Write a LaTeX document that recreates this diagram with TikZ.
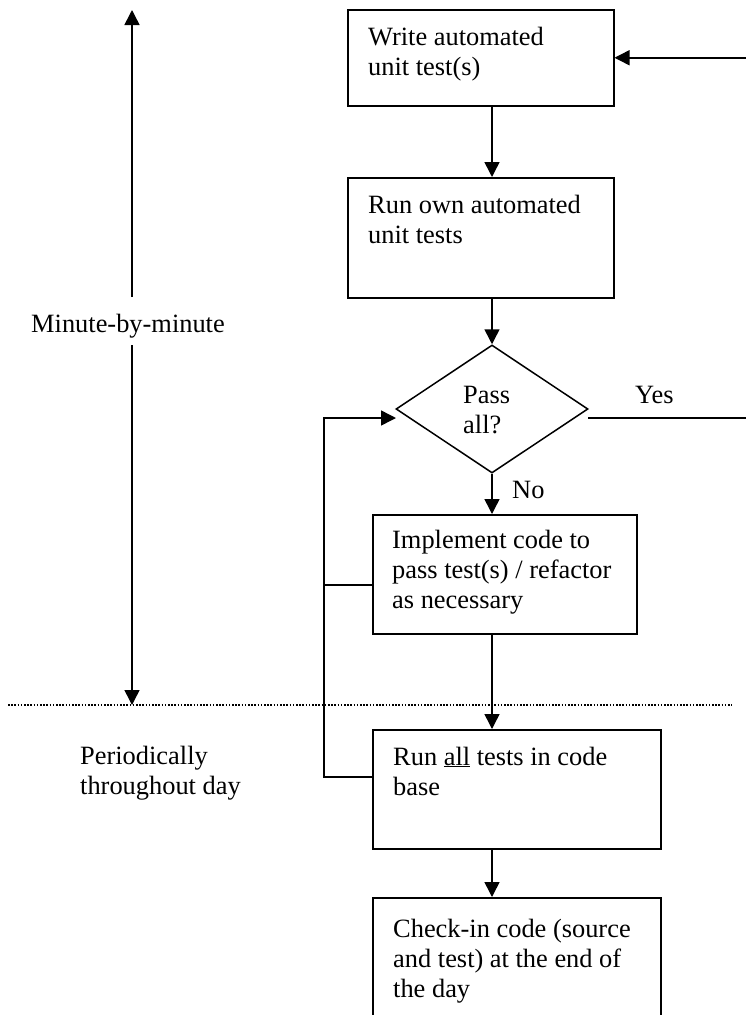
\documentclass[tikz,border=0pt]{standalone}
\usepackage{fontspec}
\setmainfont{Liberation Serif}
\usetikzlibrary{arrows.meta,shapes.geometric}
\newcommand\mylines[1]{\begin{tabular}[t]{@{}l@{}}#1\end{tabular}}
\begin{document}
\begin{tikzpicture}[x=1pt,y=-1pt,
  box/.style={draw, line width=1.5pt, rectangle, inner sep=0pt, anchor=north west},
  lbl/.style={inner sep=0pt, anchor=base west, font=\fontsize{26.4}{30}\selectfont},
  arr/.style={line width=1.5pt, -{Triangle[length=15pt,width=15pt]}},
  ln/.style={line width=1.5pt}]
\clip (0,0) rectangle (746,1015);
\fill[white] (0,0) rectangle (746,1015);
% boxes
\node[box, minimum width=266pt, minimum height=96pt]  (b1) at (347,9) {};
\node[box, minimum width=266pt, minimum height=120pt] (b2) at (347,177) {};
\node[draw, line width=1.5pt, diamond, inner sep=0pt, minimum width=192pt, minimum height=128pt] (d) at (492,409) {};
\node[box, minimum width=264pt, minimum height=119pt] (b3) at (372,514) {};
\node[box, minimum width=288pt, minimum height=119pt] (b4) at (372,729) {};
\node[box, minimum width=288pt, minimum height=140pt] (b5) at (372,897) {};
% texts
\node[lbl] (t1) at (368,45) {\mylines{Write automated\\unit test(s)}};
\node[lbl] (t2) at (368,213) {\mylines{Run own automated\\unit tests}};
\node[lbl] (tp) at (463,403) {\mylines{Pass\\all?}};
\node[lbl] (ty) at (635,403) {Yes};
\node[lbl] (tn) at (512,498) {No};
\node[lbl] (t3) at (392,548) {\mylines{Implement code to\\pass test(s) / refactor\\as necessary}};
\node[lbl] (t4) at (393,765) {\mylines{Run \underline{all} tests in code\\base}};
\node[lbl] (t5) at (393,937) {\mylines{Check-in code (source\\and test) at the end of\\the day}};
\node[lbl, anchor=base] (tm) at (128,332) {Minute-by-minute};
\node[lbl] (tper) at (80,764) {\mylines{Periodically\\throughout day}};
% coordinates
\coordinate (dl) at (396,418);
\coordinate (dr) at (588,418);
\coordinate (fb) at (770,418);
\coordinate (lc) at (324,418);
\coordinate (l3) at (372,585);
\coordinate (l4) at (372,777);
\coordinate (mt) at (132,10);
\coordinate (mgt) at (132,297);
\coordinate (mgb) at (132,345);
\coordinate (mb) at (132,705);
\coordinate (dotl) at (8,705);
\coordinate (dotr) at (732,705);
% connectors
\draw[arr] (dr) -- (fb) |- (b1.east);
\draw[arr] (b1.south -| d.north) -- (b2.north -| d.north);
\draw[arr] (b2.south -| d.north) -- (d.north);
\draw[arr] (d.south) -- (d.south |- b3.north);
\draw[arr] (b3.south -| d.south) -- (b4.north -| d.south);
\draw[arr] (b4.south -| d.south) -- (b5.north -| d.south);
\draw[ln] (l3) -- (l3 -| lc);
\draw[arr] (l4) -| (lc) -- (dl);
\draw[arr] (mgt) -- (mt);
\draw[arr] (mgb) -- (mb);
\draw[line width=1.6pt, dash pattern=on 1.6pt off 1.6pt] (dotl) -- (dotr);
\end{tikzpicture}
\end{document}
